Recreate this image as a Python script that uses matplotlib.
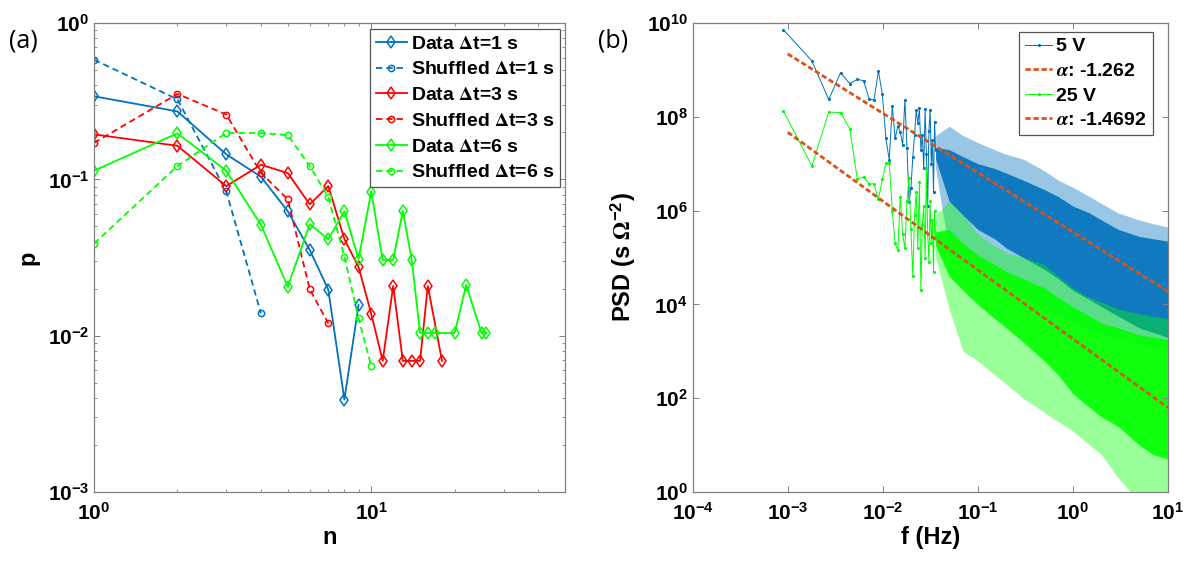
import numpy as np
import matplotlib
matplotlib.use("Agg")
import matplotlib.pyplot as plt
from matplotlib.ticker import LogLocator, NullLocator

plt.rcParams["font.family"] = ["Liberation Sans", "DejaVu Sans"]
plt.rcParams["font.weight"] = "bold"
plt.rcParams["axes.labelweight"] = "bold"
plt.rcParams["mathtext.fontset"] = "stix"

# ---------------- panel (a): p vs n ----------------
n_data1 = [1, 2, 3, 4, 5, 6, 7, 8, 9]
p_data1 = [0.34, 0.272, 0.1445, 0.104, 0.0625, 0.0354, 0.0197, 0.0039, 0.0157]
n_shuf1 = [1, 2, 3, 4]
p_shuf1 = [0.583, 0.325, 0.0838, 0.0139]
n_data3 = [1, 2, 3, 4, 5, 6, 7, 8, 9, 10, 11, 12, 13, 14, 15, 16, 18]
p_data3 = [0.194, 0.164, 0.0905, 0.124, 0.1097, 0.0692, 0.0906, 0.0415, 0.0275,
           0.0138, 0.0069, 0.0208, 0.0069, 0.0069, 0.0069, 0.0208, 0.0069]
n_shuf3 = [1, 2, 3, 4, 5, 6, 7]
p_shuf3 = [0.171, 0.352, 0.26, 0.11, 0.0746, 0.0198, 0.012]
n_data6 = [1, 2, 3, 4, 5, 6, 7, 8, 9, 10, 11, 12, 13, 14, 15, 16, 17, 20, 22, 25, 26]
p_data6 = [0.1136, 0.197, 0.1136, 0.0512, 0.0206, 0.0517, 0.0414, 0.0625, 0.031,
           0.0835, 0.0305, 0.0305, 0.0628, 0.0305, 0.0104, 0.0104, 0.0104, 0.0104,
           0.0211, 0.0104, 0.0104]
n_shuf6 = [1, 2, 3, 4, 5, 6, 7, 8, 9, 10]
p_shuf6 = [0.0388, 0.1217, 0.198, 0.198, 0.192, 0.1217, 0.077, 0.032, 0.0129, 0.0064]

# ---------------- panel (b): PSD ----------------
# first, resolvable frequency bins (Hz)
f_low = [0.0009, 0.0018, 0.0027, 0.0036, 0.0045, 0.0054, 0.0063, 0.0072, 0.0081, 0.009,
         0.0099, 0.0108, 0.0117, 0.0126, 0.0135, 0.0144, 0.0153, 0.0162, 0.0171, 0.018,
         0.0189, 0.0198, 0.0207, 0.0216, 0.0225, 0.0234, 0.0243, 0.0252, 0.0261, 0.027,
         0.0279, 0.0288, 0.0297, 0.0306, 0.0315, 0.0324, 0.0333, 0.0342, 0.0351, 0.036]
# log10 PSD read for those bins
lg_5v_low = [9.86, 9.19, 8.37, 8.94, 8.71, 8.80, 8.77, 8.38, 8.36, 8.98,
             8.48, 7.54, 7.08, 8.23, 7.54, 7.80, 7.68, 7.40, 8.36, 7.33,
             6.19, 6.48, 7.14, 7.61, 8.14, 7.86, 8.18, 7.29, 7.61, 6.90,
             8.17, 7.20, 6.10, 7.70, 8.15, 7.00, 7.50, 6.40, 7.90, 7.30]
lg_25v_low = [8.13, 6.95, 8.10, 8.09, 7.75, 6.67, 6.72, 6.57, 6.57, 6.24,
              6.67, 7.01, 7.01, 6.00, 5.30, 5.15, 6.30, 5.50, 5.20, 6.20,
              6.70, 5.60, 4.60, 5.90, 6.40, 5.20, 6.60, 4.30, 5.70, 6.10,
              5.00, 6.90, 5.50, 4.90, 6.20, 5.30, 5.80, 4.70, 6.00, 5.40]

# dense part: envelopes (log10) read at these frequencies
f_band = [0.036, 0.05, 0.07, 0.1, 0.15, 0.2, 0.3, 0.5, 0.7, 1.0, 1.5, 2.0, 3.0, 5.0, 7.0, 10.0]
b5_top = [7.6, 7.8, 7.6, 7.45, 7.3, 7.2, 7.1, 6.85, 6.65, 6.5, 6.3, 6.15, 5.95, 5.8, 5.72, 5.65]
b5_core_top = [7.35, 7.3, 7.15, 7.0, 6.9, 6.8, 6.65, 6.45, 6.3, 6.1, 5.95, 5.8, 5.6, 5.45, 5.4, 5.35]
b5_core_bot = [7.1, 6.2, 5.9, 5.6, 5.4, 5.2, 5.0, 4.75, 4.55, 4.3, 4.1, 3.95, 3.75, 3.5, 3.4, 3.3]
b5_bot = [6.9, 5.1, 4.9, 4.8, 4.6, 4.4, 4.2, 3.9, 3.75, 3.6, 3.45, 3.35, 3.25, 3.15, 3.1, 3.05]
b25_top = [5.9, 6.2, 5.9, 5.5, 5.25, 5.1, 5.0, 4.85, 4.6, 4.35, 4.15, 4.05, 3.9, 3.8, 3.75, 3.7]
b25_core_top = [5.55, 5.6, 5.3, 5.05, 4.85, 4.7, 4.55, 4.35, 4.15, 3.95, 3.75, 3.6, 3.5, 3.35, 3.3, 3.25]
b25_core_bot = [5.25, 4.6, 4.3, 4.0, 3.7, 3.5, 3.2, 2.8, 2.5, 2.1, 1.8, 1.6, 1.4, 1.0, 0.8, 0.7]
b25_bot = [5.0, 3.9, 3.0, 2.8, 2.5, 2.3, 2.0, 1.7, 1.5, 1.3, 1.0, 0.8, 0.3, -0.2, -0.5, -0.5]

# power-law fits, end points
f_fit = [1e-3, 10.0]
fit_5v = [2.2e9, 1.9e4]
fit_25v = [4.7e7, 63.0]

blue = "#0072BD"
red = "#FF0000"
green = "#00FF00"
orange = "#D95319"
spine = "#808080"

fig = plt.figure(figsize=(11.84, 5.65), dpi=100)
ax1 = fig.add_axes([0.0794, 0.1292, 0.3978, 0.830])
ax2 = fig.add_axes([0.585, 0.1292, 0.4014, 0.830])

dash = (0, (3.5, 2.2))
ms_d = 6.5
ms_o = 4.5
ax1.plot(n_data1, p_data1, "-", marker="d", color=blue, lw=1.3, ms=ms_d, mfc="none", mew=1.1, label="Data $\\Delta$t=1 s")
ax1.plot(n_shuf1, p_shuf1, linestyle=dash, marker="o", color=blue, lw=1.3, ms=ms_o, mfc="none", mew=1.1, label="Shuffled $\\Delta$t=1 s")
ax1.plot(n_data3, p_data3, "-", marker="d", color=red, lw=1.3, ms=ms_d, mfc="none", mew=1.1, label="Data $\\Delta$t=3 s")
ax1.plot(n_shuf3, p_shuf3, linestyle=dash, marker="o", color=red, lw=1.3, ms=ms_o, mfc="none", mew=1.1, label="Shuffled $\\Delta$t=3 s")
ax1.plot(n_data6, p_data6, "-", marker="d", color=green, lw=1.3, ms=ms_d, mfc="none", mew=1.1, label="Data $\\Delta$t=6 s")
ax1.plot(n_shuf6, p_shuf6, linestyle=dash, marker="o", color=green, lw=1.3, ms=ms_o, mfc="none", mew=1.1, label="Shuffled $\\Delta$t=6 s")

ax1.set_xscale("log")
ax1.set_yscale("log")
ax1.set_xlim(1, 50)
ax1.set_ylim(1e-3, 1)
ax1.set_xlabel("n", fontsize=17, labelpad=2)
ax1.set_ylabel("p", fontsize=17, labelpad=6)
leg1 = ax1.legend(loc="upper right", bbox_to_anchor=(0.99, 0.987), borderaxespad=0,
                  fontsize=14, handlelength=1.6, handletextpad=0.2, labelspacing=0.42,
                  borderpad=0.3, fancybox=False, framealpha=1)
leg1.get_frame().set_edgecolor("#555555")
leg1.get_frame().set_linewidth(0.9)

# panel (b)
ax2.plot(f_low, 10 ** np.array(lg_5v_low), "-", marker=".", color=blue, lw=0.7, ms=2.5, label="5 V")
ax2.fill_between(f_band, 10 ** np.array(b5_bot), 10 ** np.array(b5_top), color=blue, alpha=0.4, lw=0)
ax2.fill_between(f_band, 10 ** np.array(b5_core_bot), 10 ** np.array(b5_core_top), color=blue, alpha=0.9, lw=0)
ax2.plot(f_fit, fit_5v, linestyle=(0, (1.9, 1.0)), color=orange, lw=2.0, label="$\\alpha$: -1.262")
ax2.plot(f_low, 10 ** np.array(lg_25v_low), "-", marker=".", color=green, lw=0.7, ms=2.5, label="25 V")
ax2.fill_between(f_band, 10 ** np.array(b25_bot), 10 ** np.array(b25_top), color=green, alpha=0.4, lw=0)
ax2.fill_between(f_band, 10 ** np.array(b25_core_bot), 10 ** np.array(b25_core_top), color=green, alpha=0.9, lw=0)
ax2.plot(f_fit, fit_25v, linestyle=(0, (1.9, 1.0)), color=orange, lw=2.0, label="$\\alpha$: -1.4692")

ax2.set_xscale("log")
ax2.set_yscale("log")
ax2.set_xlim(1e-4, 10)
ax2.set_ylim(1, 1e10)
ax2.xaxis.set_major_locator(LogLocator(base=10, numticks=10))
ax2.yaxis.set_major_locator(LogLocator(base=100, numticks=10))
ax2.xaxis.set_minor_locator(NullLocator())
ax2.yaxis.set_minor_locator(NullLocator())
ax2.set_xlabel("f (Hz)", fontsize=17, labelpad=2)
ax2.set_ylabel("PSD (s $\\Omega^{\\mathdefault{-2}}$)", fontsize=17, labelpad=6)
leg2 = ax2.legend(loc="upper right", bbox_to_anchor=(0.968, 0.981), borderaxespad=0,
                  fontsize=14, handlelength=1.4, handletextpad=0.2, labelspacing=0.36,
                  borderpad=0.3, fancybox=False, framealpha=1)
leg2.get_frame().set_edgecolor("#555555")
leg2.get_frame().set_linewidth(0.9)

for ax in (ax1, ax2):
    ax.tick_params(which="both", direction="in", top=True, right=True, colors=spine,
                   labelcolor="black", labelsize=15)
    ax.tick_params(which="major", length=4, width=0.7)
    ax.tick_params(which="minor", length=2, width=0.6)
    ax.tick_params(axis="x", which="both", pad=7)
    for s in ax.spines.values():
        s.set_color(spine)
        s.set_linewidth(0.9)

fig.text(0.008, 0.927, "(a)", fontsize=18, fontweight="normal", va="center",
         family=["Open Sans", "DejaVu Sans"])
fig.text(0.505, 0.927, "(b)", fontsize=18, fontweight="normal", va="center",
         family=["Open Sans", "DejaVu Sans"])

fig.savefig("out.png", dpi=100)
